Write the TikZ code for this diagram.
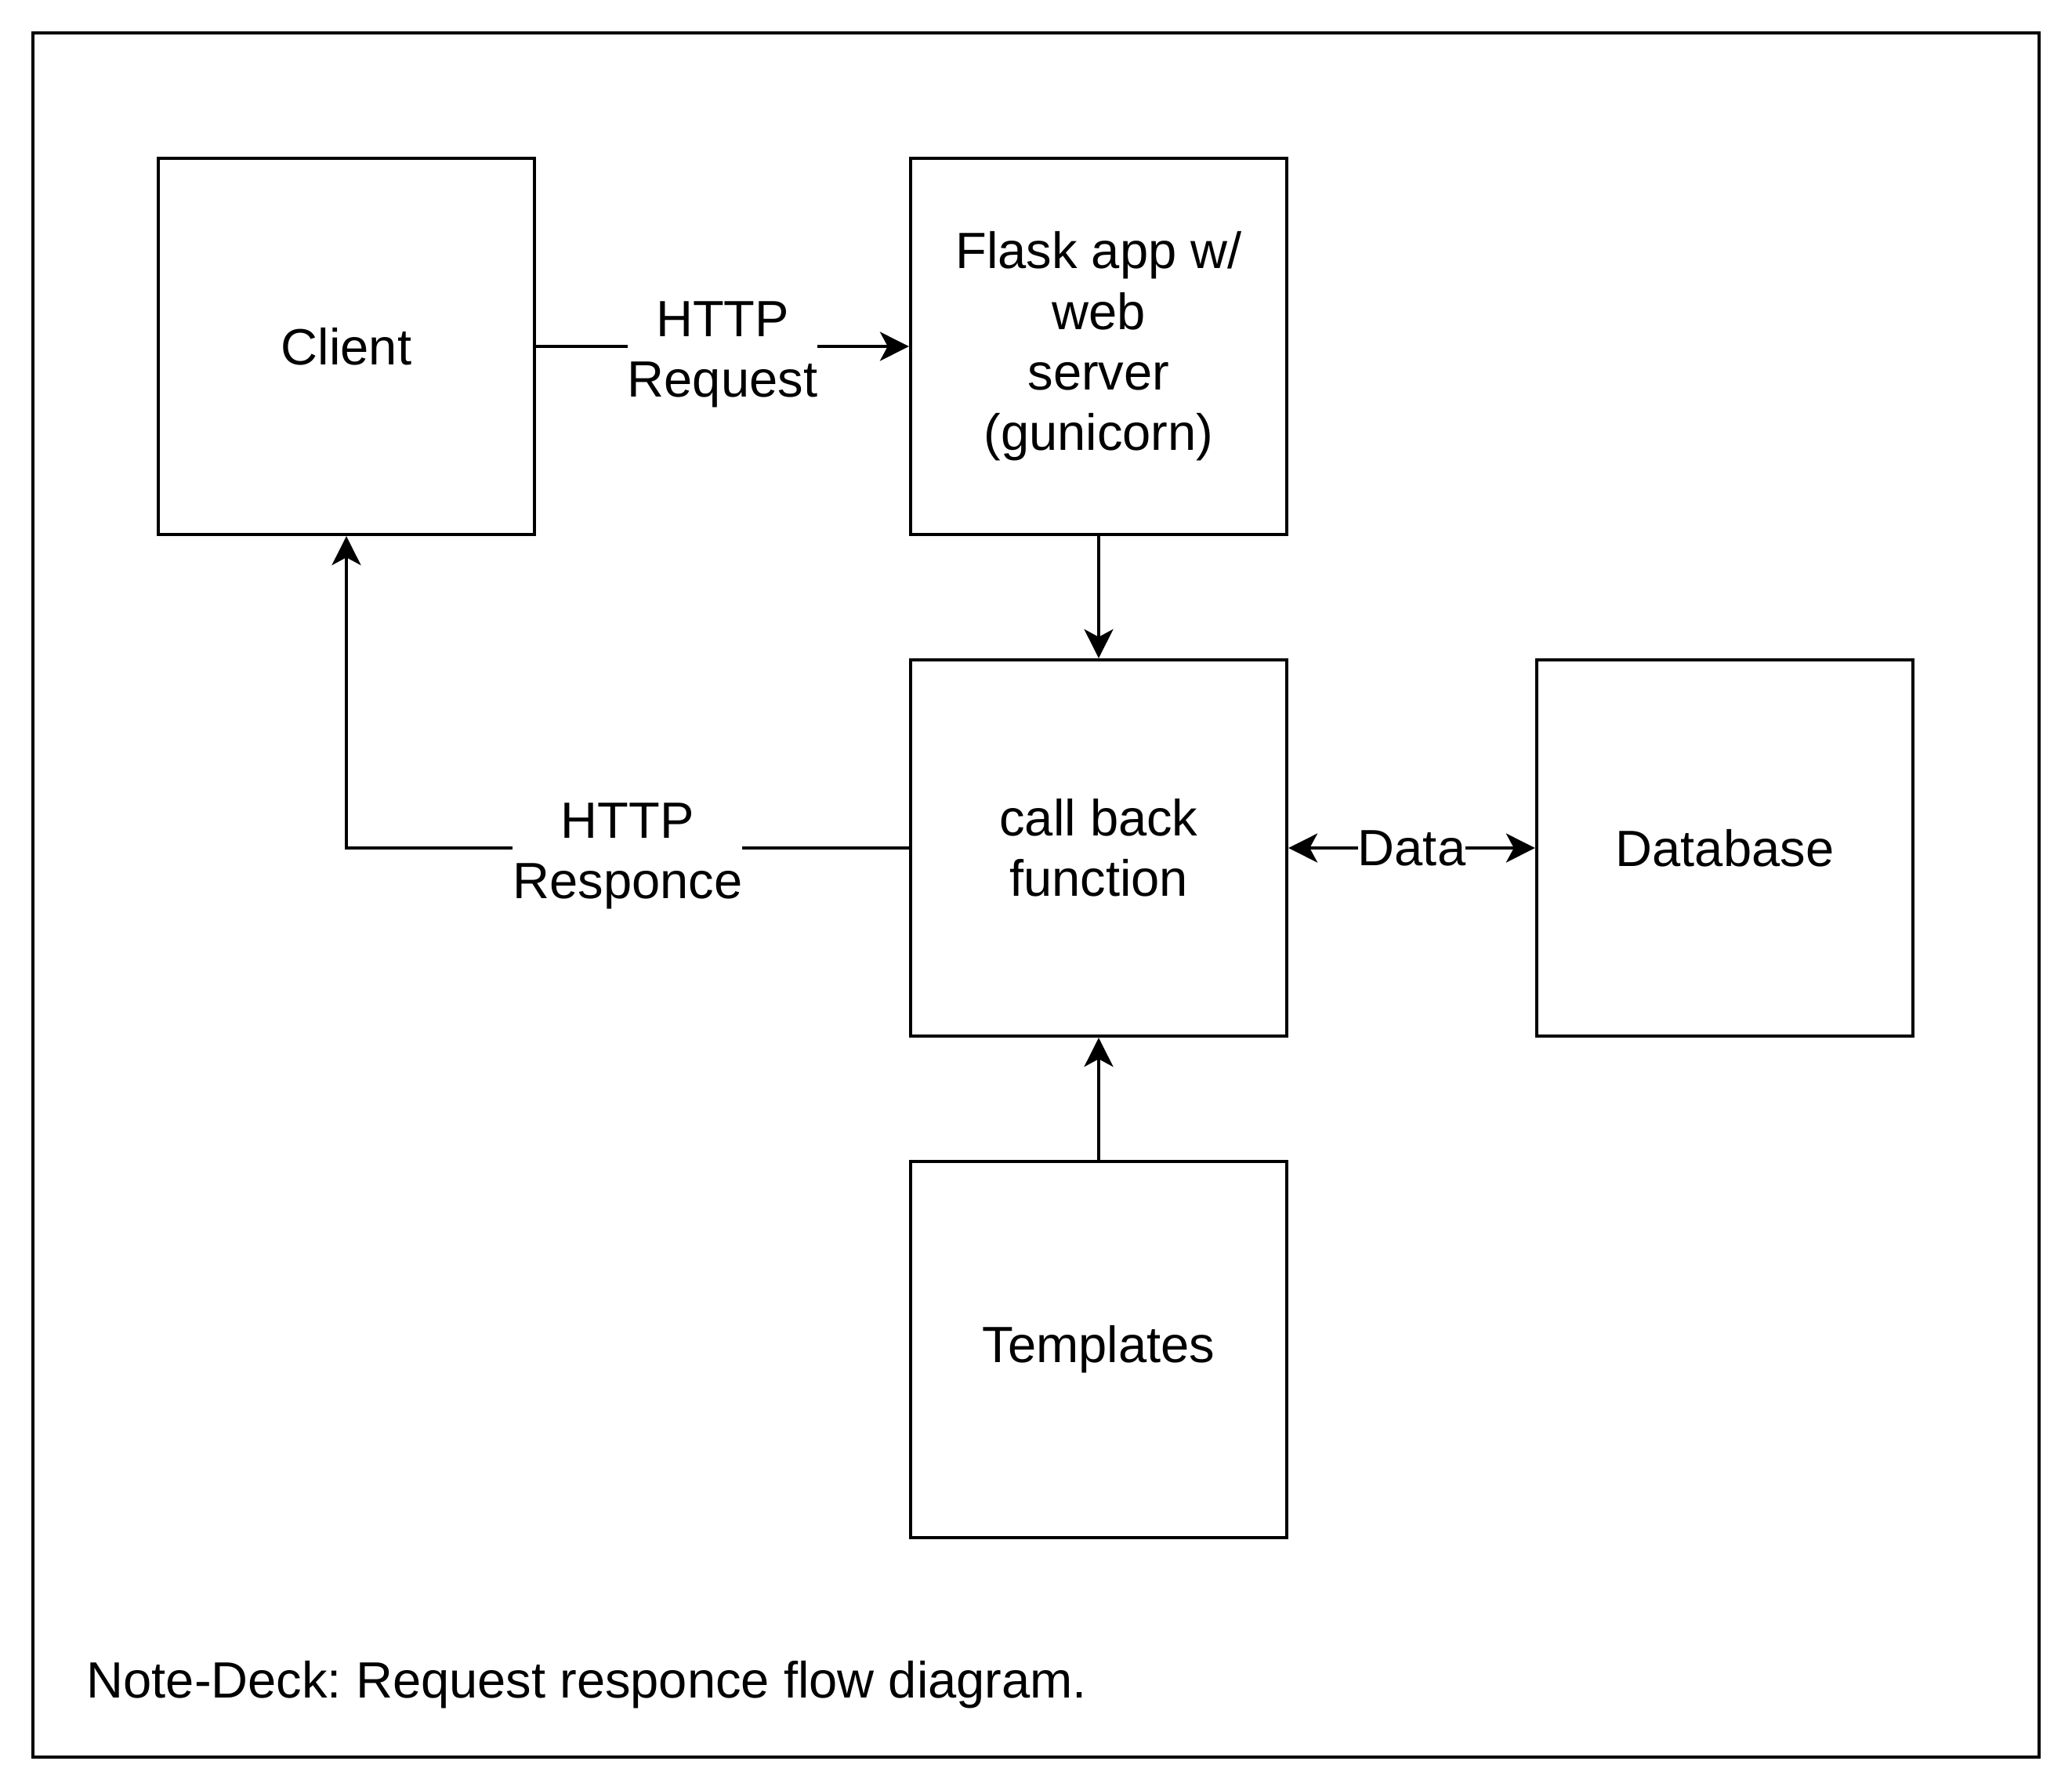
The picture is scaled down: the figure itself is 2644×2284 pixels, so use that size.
\documentclass[tikz,border=0pt]{standalone}
\usepackage{fontspec}
\setmainfont{Liberation Sans}
\usetikzlibrary{arrows.meta}
\frenchspacing

\begin{document}
\begin{tikzpicture}[x=0.01cm, y=-0.01cm,
    font=\fontsize{18.5pt}{22pt}\selectfont,
    box/.style={draw=black, line width=1.15pt, minimum width=4.8cm, minimum height=4.8cm, align=center, inner sep=0pt},
    link/.style={draw=black, line width=1.15pt, -{Stealth[length=10.5pt, width=10.5pt, inset=2.8pt]}},
    lbl/.style={fill=white, inner sep=0pt, align=center}]
\useasboundingbox (0,0) rectangle (2644,2284);
\draw[black, line width=1.15pt] (42,42) rectangle (2602,2242);
\node[box] (client) at (442,442) {Client};
\node[box] (flask) at (1402,442) {Flask app w/\\web\\server\\(gunicorn)};
\node[box] (callback) at (1402,1082) {call back\\function};
\node[box] (database) at (2201,1082) {Database};
\node[box] (templates) at (1402,1722) {Templates};
\draw[link] (client) -- node[lbl, yshift=-3pt] {HTTP\\Request} (flask);
\draw[link] (flask) -- (callback);
\draw[link] (callback.west) -| node[lbl, pos=0.25, yshift=-3pt] {HTTP\\Responce} (client.south);
\draw[link, {Stealth[length=10.5pt, width=10.5pt, inset=2.8pt]}-{Stealth[length=10.5pt, width=10.5pt, inset=2.8pt]}] (callback) -- node[lbl] {Data} (database);
\draw[link] (templates) -- (callback);
\node[anchor=base west, inner sep=0pt] (note) at (110,2166) {Note-Deck: Request responce flow diagram.};
\end{tikzpicture}
\end{document}
